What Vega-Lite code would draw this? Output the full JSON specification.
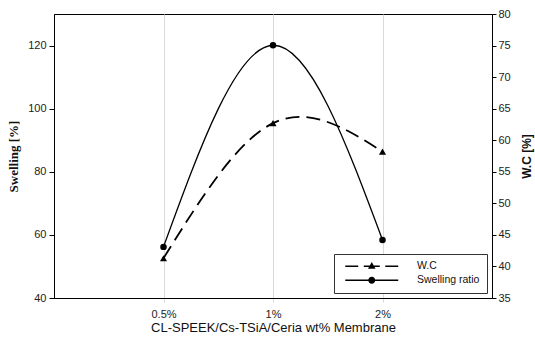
{
  "$schema": "https://vega.github.io/schema/vega-lite/v6.json",
  "width": 438,
  "height": 284,
  "autosize": {"type": "none"},
  "padding": {"left": 54, "top": 14, "right": 43, "bottom": 41},
  "config": {
    "view": {"stroke": "black", "strokeWidth": 1},
    "font": "Liberation Sans",
    "axis": {"labelFont": "Liberation Sans", "labelFontSize": 11, "labelColor": "#222", "titleColor": "#111", "domainColor": "black", "tickColor": "black"}
  },
  "data": {
    "values": [
      {"membrane": "0.5%", "swelling": 56.2, "wc": 41.3},
      {"membrane": "1%", "swelling": 120.1, "wc": 62.7},
      {"membrane": "2%", "swelling": 58.4, "wc": 58.2}
    ]
  },
  "encoding": {
    "x": {
      "field": "membrane",
      "type": "ordinal",
      "sort": ["0.5%", "1%", "2%"],
      "scale": {"type": "point", "padding": 1},
      "axis": {
        "labelAngle": 0,
        "grid": true,
        "gridColor": "#d9d9d9",
        "tickColor": "#d9d9d9",
        "tickSize": 4,
        "labelPadding": 6,
        "title": "CL-SPEEK/Cs-TSiA/Ceria wt% Membrane",
        "titleFontSize": 13,
        "titleFontWeight": "normal",
        "titlePadding": 2
      }
    }
  },
  "layer": [
    {
      "encoding": {
        "y": {
          "field": "swelling",
          "type": "quantitative",
          "scale": {"domain": [40, 130], "nice": false, "zero": false},
          "axis": {
            "orient": "left",
            "values": [40, 60, 80, 100, 120],
            "grid": false,
            "tickSize": 5,
            "labelPadding": 3,
            "title": "Swelling [%]",
            "titleFont": "Liberation Serif",
            "titleFontWeight": "bold",
            "titleFontSize": 13,
            "titlePadding": 7
          }
        }
      },
      "layer": [
        {"mark": {"type": "line", "interpolate": "natural", "color": "black", "strokeWidth": 1.3}},
        {"mark": {"type": "point", "shape": "circle", "filled": true, "color": "black", "opacity": 1, "size": 42}},
        {
          "data": {
            "values": [
              {"membrane": "1%", "swelling": 120.1, "series": "W.C"},
              {"membrane": "1%", "swelling": 120.1, "series": "Swelling ratio"}
            ]
          },
          "mark": {"type": "point", "filled": true, "color": "black", "opacity": 0},
          "encoding": {
            "shape": {
              "field": "series",
              "type": "nominal",
              "scale": {
                "domain": ["W.C", "Swelling ratio"],
                "range": [
                  "M-5.3,-0.17L-2.7,-0.17L-2.7,0.17L-5.3,0.17ZM-1.6,-0.17L1.6,-0.17L1.6,0.17L-1.6,0.17ZM2.7,-0.17L5.3,-0.17L5.3,0.17L2.7,0.17ZM0,-0.85L0.75,0.5L-0.75,0.5Z",
                  "M-5.3,-0.14L5.3,-0.14L5.3,0.14L-5.3,0.14ZM0.7,0A0.7,0.7,0,1,1,-0.7,0A0.7,0.7,0,1,1,0.7,0Z"
                ]
              },
              "legend": {
                "title": null,
                "orient": "bottom-right",
                "offset": 5,
                "strokeColor": "#333",
                "fillColor": "white",
                "padding": 7,
                "symbolSize": 100,
                "symbolOffset": 25.5,
                "rowPadding": 3,
                "labelOffset": 40,
                "labelFont": "Liberation Sans",
                "labelFontSize": 10.5,
                "labelColor": "#111",
                "symbolFillColor": "black",
                "symbolStrokeWidth": 0,
                "symbolOpacity": 1
              }
            }
          }
        }
      ]
    },
    {
      "encoding": {
        "y": {
          "field": "wc",
          "type": "quantitative",
          "scale": {"domain": [35, 80], "nice": false, "zero": false},
          "axis": {
            "orient": "right",
            "values": [35, 40, 45, 50, 55, 60, 65, 70, 75, 80],
            "grid": false,
            "tickSize": 4,
            "labelPadding": 2,
            "title": "W.C [%]",
            "titleAngle": 270,
            "titleBaseline": "top",
            "titleFontWeight": "bold",
            "titleFontSize": 12,
            "titlePadding": 11
          }
        }
      },
      "layer": [
        {"mark": {"type": "line", "interpolate": "natural", "color": "black", "strokeWidth": 1.8, "strokeDash": [14, 7]}},
        {"mark": {"type": "point", "shape": "triangle-up", "filled": true, "color": "black", "opacity": 1, "size": 50}}
      ]
    }
  ],
  "resolve": {"scale": {"y": "independent"}}
}
